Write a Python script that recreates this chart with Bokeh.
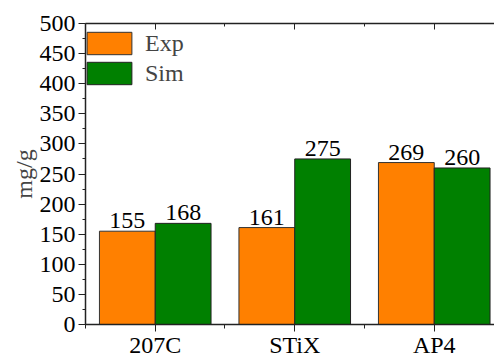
from bokeh.plotting import figure
from bokeh.models import (ColumnDataSource, LinearAxis, FixedTicker, SingleIntervalTicker,
                          LabelSet, Legend, LegendItem, Range1d)
from bokeh.embed import file_html
from bokeh.resources import INLINE

categories = ["207C", "STiX", "AP4"]
exp_values = [155, 161, 269]
sim_values = [168, 275, 260]
series_names = ["Exp", "Sim"]

FONT = "Liberation Serif"
FS = "24px"
ORANGE = "#FF8000"
GREEN = "#008000"

centers = [i + 0.5 for i in range(len(categories))]
bar_w = 0.4

exp_src = ColumnDataSource(dict(x=[c - bar_w / 2 for c in centers], top=exp_values,
                                lbl=[str(v) for v in exp_values]))
sim_src = ColumnDataSource(dict(x=[c + bar_w / 2 for c in centers], top=sim_values,
                                lbl=[str(v) for v in sim_values]))

p = figure(width=494, height=360, output_backend="svg", toolbar_location=None,
           x_range=Range1d(0, 2.932), y_range=Range1d(0, 500),
           x_axis_location=None, y_axis_location=None,
           min_border_left=85, min_border_top=23, min_border_bottom=30, min_border_right=0)
p.outline_line_color = None
p.xgrid.visible = False
p.ygrid.visible = False
p.background_fill_color = "white"
p.border_fill_color = "white"

r_exp = p.vbar(x="x", top="top", width=bar_w, source=exp_src, fill_color=ORANGE,
               line_color="#333333", line_width=1)
r_sim = p.vbar(x="x", top="top", width=bar_w, source=sim_src, fill_color=GREEN,
               line_color="#222222", line_width=1)

# value labels above each bar
for src in (exp_src, sim_src):
    p.add_layout(LabelSet(x="x", y="top", text="lbl", source=src, y_offset=3,
                          text_align="center", text_baseline="bottom",
                          text_font=FONT, text_font_size=FS, text_color="black"))

def style_axis(ax):
    ax.axis_line_color = "#222222"
    ax.axis_line_width = 1.5
    ax.major_tick_line_color = "#222222"
    ax.minor_tick_line_color = "#222222"
    ax.major_tick_line_width = 1
    ax.minor_tick_line_width = 1
    ax.major_label_text_font = FONT
    ax.major_label_text_font_size = FS
    ax.major_label_text_color = "black"

# left value axis
yax = LinearAxis(ticker=SingleIntervalTicker(interval=50, num_minor_ticks=2))
style_axis(yax)
yax.major_tick_out = 7
yax.major_tick_in = 0
yax.minor_tick_out = 3
yax.minor_tick_in = 0
yax.major_label_standoff = 3
yax.axis_label = "mg/g"
yax.axis_label_text_font = FONT
yax.axis_label_text_font_style = "normal"
yax.axis_label_text_font_size = FS
yax.axis_label_standoff = 0
p.add_layout(yax, "left")

# bottom category axis
xax = LinearAxis(ticker=FixedTicker(ticks=centers, minor_ticks=[0, 1, 2, 3]))
style_axis(xax)
xax.major_tick_out = 7
xax.major_tick_in = 0
xax.minor_tick_out = 4
xax.minor_tick_in = 0
xax.major_label_standoff = 0
xax.major_label_overrides = {c: name for c, name in zip(centers, categories)}
p.add_layout(xax, "below")

# top frame axis with inward ticks, no labels
tax = LinearAxis(ticker=FixedTicker(ticks=centers, minor_ticks=[1, 2]))
style_axis(tax)
tax.major_tick_out = 0
tax.major_tick_in = 6
tax.minor_tick_out = 0
tax.minor_tick_in = 3
tax.major_label_text_alpha = 0
tax.major_label_text_font_size = "1px"
tax.major_label_standoff = 0
p.add_layout(tax, "above")

legend = Legend(items=[LegendItem(label=series_names[0], renderers=[r_exp]),
                       LegendItem(label=series_names[1], renderers=[r_sim])],
                location=(-4, 237), margin=0, padding=0, spacing=2,
                glyph_width=56, glyph_height=28, label_standoff=8,
                label_text_font=FONT, label_text_font_size=FS,
                border_line_color=None, background_fill_alpha=0)
p.add_layout(legend, "center")

open("out.html", "w").write(file_html(p, INLINE))
